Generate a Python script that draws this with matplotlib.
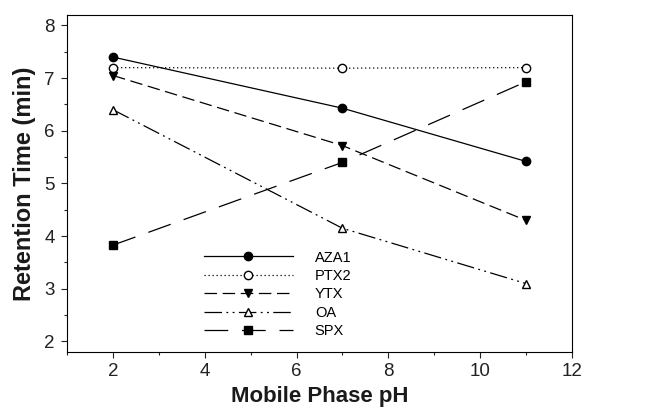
import numpy as np
import matplotlib.pyplot as plt
from matplotlib.ticker import MultipleLocator

plt.rcParams['font.family'] = ['Liberation Sans', 'DejaVu Sans']

# data
ph = [2, 7, 11]
aza1 = [7.40, 6.43, 5.42]
ptx2 = [7.20, 7.19, 7.20]
ytx = [7.05, 5.72, 4.30]
oa = [6.40, 4.15, 3.10]
spx = [3.83, 5.40, 6.93]

fig = plt.figure(figsize=(6.46, 4.11), dpi=100)
ax = fig.add_axes([0.104, 0.1436, 0.781, 0.82])

ms = 6
ax.plot(ph, aza1, color='black', lw=0.9, ls='-', marker='o', ms=ms, label='AZA1')
ax.plot(ph, ptx2, color='black', lw=0.9, ls=(0, (1, 2.2)), marker='o', ms=ms,
        mfc='white', label='PTX2')
ax.plot(ph, ytx, color='black', lw=0.9, ls=(0, (10, 4.5)), marker='v', ms=ms, label='YTX')
ax.plot(ph, oa, color='black', lw=0.9, ls=(0, (14, 3.5, 1.5, 3.5, 1.5, 3.5)), marker='^',
        ms=ms, mfc='white', label='OA')
ax.plot(ph, spx, color='black', lw=0.9, ls=(0, (19, 11)), marker='s', ms=ms, label='SPX')

ax.set_xlim(1, 12)
ax.set_ylim(1.8, 8.2)
ax.xaxis.set_major_locator(MultipleLocator(2))
ax.xaxis.set_minor_locator(MultipleLocator(1))
ax.yaxis.set_major_locator(MultipleLocator(1))
ax.yaxis.set_minor_locator(MultipleLocator(0.5))
ax.tick_params(which='both', direction='out', labelsize=13.5, width=0.8,
               colors='#222222')
ax.tick_params(which='major', length=4)
ax.tick_params(which='minor', length=2.5)
ax.tick_params(axis='x', pad=4)
ax.tick_params(axis='y', pad=5)
for s in ax.spines.values():
    s.set_linewidth(0.8)

ax.set_xlabel('Mobile Phase pH', fontsize=16, fontweight='bold', labelpad=4,
              color='#1a1a1a')
ax.set_ylabel('Retention Time (min)', fontsize=17, fontweight='bold', labelpad=6,
              color='#1a1a1a')

ax.legend(loc='upper left', bbox_to_anchor=(0.245, 0.34), frameon=False,
          numpoints=1, handlelength=6.1, fontsize=10.5, labelspacing=0.3,
          handletextpad=1.5)

fig.savefig('out.png', dpi=100)
